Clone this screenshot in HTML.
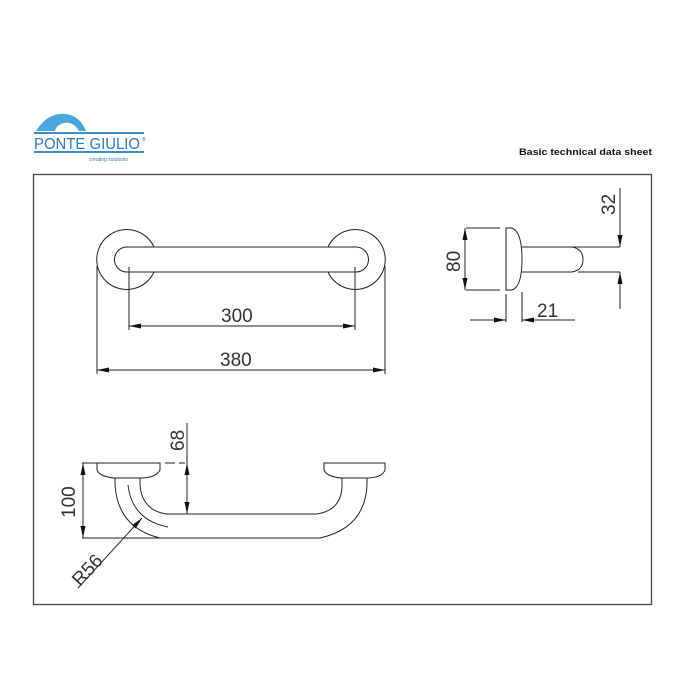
<!DOCTYPE html>
<html><head><meta charset="utf-8"><style>
html,body{margin:0;padding:0;background:#fff;width:700px;height:700px;overflow:hidden}
</style></head><body>
<svg width="700" height="700" viewBox="0 0 700 700" xmlns="http://www.w3.org/2000/svg">
<defs>
<marker id="a" viewBox="0 0 12 5" refX="12" refY="2.5" markerWidth="12" markerHeight="5" orient="auto-start-reverse" markerUnits="userSpaceOnUse"><path d="M0,0L12,2.5L0,5z" fill="#111"/></marker>
</defs>
<!-- logo -->
<path d="M36,131 Q48,112 66,114 Q80,116 86,131 L79,131 Q73,121 64,123 Q56,125 55,131 Z" fill="#4aa6dc"/>
<rect x="34" y="132" width="110" height="2" fill="#3b8fcf"/>
<text x="34" y="149" font-family="Liberation Sans, sans-serif" font-size="16" fill="#2e79c2" textLength="106" lengthAdjust="spacingAndGlyphs">PONTE GIULIO</text>
<text x="142" y="141" font-family="Liberation Sans, sans-serif" font-size="5" fill="#2e79c2">®</text>
<rect x="34" y="151" width="110" height="2" fill="#3b8fcf"/>
<text x="89" y="161" font-family="Liberation Sans, sans-serif" font-size="5" fill="#2e79c2">creating solutions</text>
<text x="519" y="155" font-family="Liberation Sans, sans-serif" font-size="9.5" font-weight="bold" fill="#111" textLength="133" lengthAdjust="spacingAndGlyphs">Basic technical data sheet</text>
<rect x="33.5" y="174.5" width="618" height="430" fill="none" stroke="#444" stroke-width="1.3"/>
<g fill="none" stroke="#222" stroke-width="1">
<!-- top view -->
<path d="M154,247 A30,30 0 1 0 154,272"/>
<path d="M328,247 A30,30 0 1 1 328,272"/>
<path d="M127,247 L356,247 A12.5,12.5 0 0 1 356,272 L127,272 A12.5,12.5 0 0 1 127,247 Z"/>
<line x1="129" y1="267" x2="129" y2="330"/>
<line x1="355" y1="267" x2="355" y2="330"/>
<line x1="129" y1="326" x2="355" y2="326" marker-start="url(#a)" marker-end="url(#a)"/>
<line x1="97" y1="266" x2="97" y2="374"/>
<line x1="385" y1="266" x2="385" y2="374"/>
<line x1="97" y1="370" x2="385" y2="370" marker-start="url(#a)" marker-end="url(#a)"/>
<!-- side view -->
<path d="M506,228 L512,228 Q522,232 522,259 Q522,287 512,290 L506,290 Z"/>
<path d="M522,247 L572,247 Q583,249 583,259.5 Q583,270 572,272 L522,272"/>
<line x1="572" y1="247" x2="620" y2="247"/>
<line x1="578" y1="272" x2="620" y2="272"/>
<line x1="620" y1="188" x2="620" y2="247" marker-end="url(#a)"/>
<line x1="620" y1="309" x2="620" y2="272" marker-end="url(#a)"/>
<line x1="466" y1="228" x2="500" y2="228"/>
<line x1="466" y1="290" x2="500" y2="290"/>
<line x1="465" y1="228" x2="465" y2="290" marker-start="url(#a)" marker-end="url(#a)"/>
<line x1="506" y1="294" x2="506" y2="322"/>
<line x1="522" y1="292" x2="522" y2="322"/>
<line x1="470" y1="320" x2="506" y2="320" marker-end="url(#a)"/>
<line x1="575" y1="320" x2="522" y2="320" marker-end="url(#a)"/>
<!-- front view -->
<path d="M97,463 L160,463 L160,470 Q156,478 140,478 L115,478 Q100,477 97,470 Z"/>
<path d="M324,463 L385,463 L385,470 Q382,478 366,478 L342,478 Q327,477 324,470 Z"/>
<path d="M115,478 L115,485 Q118,528 160,538 L320,538 Q365,528 367,485 L367,478"/>
<path d="M140,478 L140,485 Q142,510 166,514 L317,514 Q342,510 342,485 L342,478"/>
<path d="M128,485 Q132,520 168,527"/>
<line x1="82" y1="463" x2="97" y2="463"/>
<line x1="82" y1="538" x2="160" y2="538"/>
<line x1="83" y1="463" x2="83" y2="538" marker-start="url(#a)" marker-end="url(#a)"/>
<line x1="165" y1="463" x2="185" y2="463" stroke-dasharray="10,4"/>
<line x1="187" y1="423" x2="187" y2="514"/>
<line x1="187" y1="490" x2="187" y2="463" marker-end="url(#a)"/>
<line x1="187" y1="490" x2="187" y2="514" marker-end="url(#a)"/>
<line x1="78" y1="588" x2="142" y2="518" marker-end="url(#a)"/>
</g>
<g font-family="Liberation Sans, DejaVu Sans, sans-serif" font-size="19" fill="#333">
<text x="221" y="322">300</text>
<text x="220" y="366">380</text>
<text x="537" y="317">21</text>
<text transform="translate(615,215) rotate(-90)">32</text>
<text transform="translate(460,272) rotate(-90)">80</text>
<text transform="translate(75,518) rotate(-90)">100</text>
<text transform="translate(184,451) rotate(-90)">68</text>
<text transform="translate(80,587) rotate(-47)">R56</text>
</g>
</svg>
</body></html>
